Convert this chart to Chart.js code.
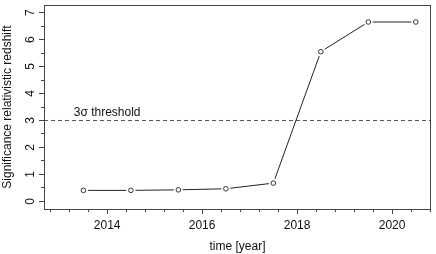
<!DOCTYPE html>
<html>
<head>
<meta charset="utf-8">
<script src="https://cdn.jsdelivr.net/npm/chart.js@4.4.1/dist/chart.umd.min.js"></script>
<style>
  body { margin: 0; background: #fff; }
  #wrap { width: 436px; height: 254px; }
</style>
</head>
<body>
<div id="wrap"><canvas id="myChart" width="436" height="254"></canvas></div>
<script>
// data
const years = [2013.5, 2014.5, 2015.5, 2016.5, 2017.5, 2018.5, 2019.5, 2020.5];
const significance = [0.41, 0.41, 0.43, 0.47, 0.68, 5.55, 6.65, 6.65];
const threshold = 3;
const thresholdLabel = '3\u03c3 threshold';

const xRange = [2012.67, 2020.82];
const yRange = [-0.28, 7.28];
const xMajorTicks = [2014, 2016, 2018, 2020];
const xMinorStep = 0.4;
const yTickLabels = ['0', '1', '2', '3', '4', '5', '6', '7'];
const yMinorStep = 0.5;

const FONT = "'Liberation Sans', Arial, sans-serif";
const TEXT = '#111';
const AXIS = '#444';

function isMajor(v, list) {
    return list.some(m => Math.abs(m - v) < 1e-6);
}

// x ticks every 0.4 yr lined up on 2014
var xTicks = [];
for (var v = xMajorTicks[0]; v >= xRange[0]; v -= xMinorStep) xTicks.unshift(+v.toFixed(2));
for (var v = xMajorTicks[0] + xMinorStep; v <= xRange[1]; v += xMinorStep) xTicks.push(+v.toFixed(2));

var yMajor = yTickLabels.map(Number);
var yTicks = [];
for (var v = yMajor[0]; v <= yMajor[yMajor.length - 1] + 1e-6; v += yMinorStep) yTicks.push(v);

const points = years.map((x, i) => ({ x: x, y: significance[i] }));

// plot box, rotated y labels and the threshold text
const extras = {
    id: 'extras',
    afterDraw(chart) {
        const c = chart.ctx;
        const a = chart.chartArea;
        const xs = chart.scales.x, ys = chart.scales.y;
        c.save();
        c.strokeStyle = AXIS;
        c.lineWidth = 1;
        c.strokeRect(a.left + 0.5, a.top + 0.5, a.right - a.left - 1, a.bottom - a.top);

        c.fillStyle = TEXT;
        c.font = '12px ' + FONT;
        c.textAlign = 'center';
        c.textBaseline = 'alphabetic';
        yTickLabels.forEach(function (lab) {
            c.save();
            c.translate(33.5, ys.getPixelForValue(Number(lab)));
            c.rotate(-Math.PI / 2);
            c.fillText(lab, 0, 0);
            c.restore();
        });

        c.fillText(thresholdLabel, xs.getPixelForValue(xMajorTicks[0]), ys.getPixelForValue(threshold) - 4);
        c.restore();
    }
};

const ctx = document.getElementById('myChart');

const myChart = new Chart(ctx, {
    type: 'line',
    data: {
        datasets: [{
            // line between the points
            data: points,
            borderColor: '#222',
            borderWidth: 1,
            pointRadius: 0,
            order: 3
        }, {
            // white gap round each point (type "b" look)
            data: points,
            showLine: false,
            pointRadius: 4.6,
            pointBackgroundColor: '#fff',
            pointBorderWidth: 0,
            order: 2
        }, {
            data: points,
            showLine: false,
            pointRadius: 2.3,
            pointBackgroundColor: '#fff',
            pointBorderColor: '#333',
            pointBorderWidth: 1,
            order: 1
        }, {
            data: [{ x: xRange[0], y: threshold }, { x: xRange[1], y: threshold }],
            borderColor: '#555',
            borderWidth: 1,
            borderDash: [4, 3],
            pointRadius: 0,
            order: 4
        }]
    },
    options: {
        responsive: false,
        animation: false,
        devicePixelRatio: 1,
        layout: { padding: { top: 1, right: 1, left: 0, bottom: 0 } },
        plugins: {
            legend: { display: false },
            tooltip: { enabled: false }
        },
        scales: {
            x: {
                type: 'linear',
                min: xRange[0],
                max: xRange[1],
                afterBuildTicks: function (scale) {
                    scale.ticks = xTicks.map(v => ({ value: v }));
                },
                afterFit: function (scale) { scale.height = 45; },
                border: { display: false },
                grid: {
                    drawOnChartArea: false,
                    drawTicks: true,
                    tickLength: 5,
                    tickColor: AXIS,
                    tickWidth: 1,
                    tickBorderDash: function (c) {
                        return isMajor(c.tick.value, xMajorTicks) ? [] : [3, 100];
                    }
                },
                ticks: {
                    autoSkip: false,
                    maxRotation: 0,
                    padding: 4,
                    color: TEXT,
                    font: { family: FONT, size: 12 },
                    callback: function (value) {
                        return isMajor(value, xMajorTicks) ? String(Math.round(value)) : '';
                    }
                },
                title: {
                    display: true,
                    text: 'time [year]',
                    color: TEXT,
                    font: { family: FONT, size: 12 },
                    padding: { top: 0, bottom: 0 }
                }
            },
            y: {
                type: 'linear',
                min: yRange[0],
                max: yRange[1],
                afterBuildTicks: function (scale) {
                    scale.ticks = yTicks.map(v => ({ value: v }));
                },
                afterFit: function (scale) { scale.width = 44; },
                border: { display: false },
                grid: {
                    drawOnChartArea: false,
                    drawTicks: true,
                    tickLength: 5,
                    tickColor: AXIS,
                    tickWidth: 1,
                    tickBorderDash: function (c) {
                        return isMajor(c.tick.value, yMajor) ? [] : [0, 2, 3, 100];
                    }
                },
                ticks: { display: false },
                title: {
                    display: true,
                    text: 'Significance relativistic redshift',
                    color: TEXT,
                    font: { family: FONT, size: 12 },
                    padding: { top: 0, bottom: 0 }
                }
            }
        }
    },
    plugins: [extras]
});
</script>
</body>
</html>
